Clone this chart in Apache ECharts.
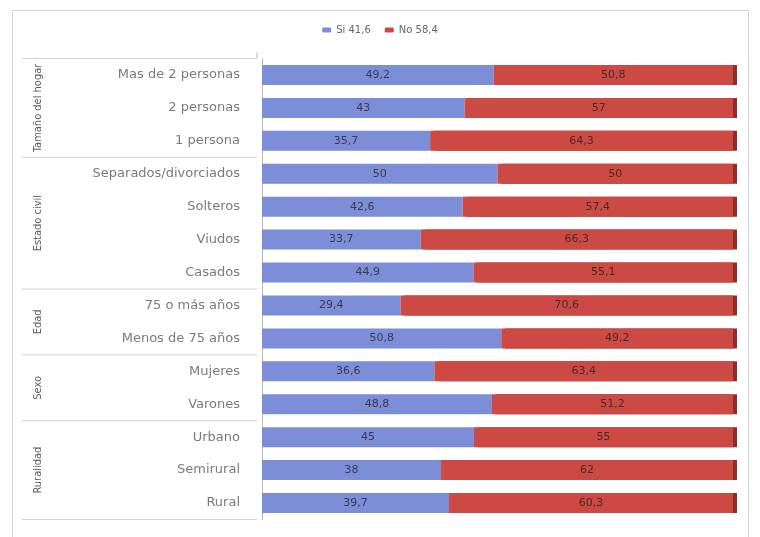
<!DOCTYPE html>
<html>
<head>
<meta charset="utf-8">
<script src="https://cdn.jsdelivr.net/npm/echarts@6/dist/echarts.min.js"></script>
<style>
html,body{margin:0;padding:0;background:#fff;}
#frame{position:absolute;left:12px;top:10px;width:737px;height:530px;border:1px solid #d4d4d4;box-sizing:border-box;}
#chart{position:absolute;left:0;top:0;width:760px;height:537px;}
</style>
</head>
<body>
<div id="frame"></div>
<div id="chart"></div>
<script>
const categories = ['Mas de 2 personas','2 personas','1 persona','Separados/divorciados','Solteros','Viudos','Casados','75 o más años','Menos de 75 años','Mujeres','Varones','Urbano','Semirural','Rural'];
const siValues = [49.2, 43, 35.7, 50, 42.6, 33.7, 44.9, 29.4, 50.8, 36.6, 48.8, 45, 38, 39.7];
const noValues = [50.8, 57, 64.3, 50, 57.4, 66.3, 55.1, 70.6, 49.2, 63.4, 51.2, 55, 62, 60.3];
const groupNames = ['Tamaño del hogar','Estado civil','Edad','Sexo','Ruralidad'];
const groupSizes = [3, 4, 2, 2, 3];
const legendNames = ['Si 41,6', 'No 58,4'];

const blue = '#7d8ed8';
const red = '#cc4a43';
const fmt = v => String(v.value).replace('.', ',');

const chart = echarts.init(document.getElementById('chart'), null, {renderer:'canvas'});
const option = {
  animation: false,
  backgroundColor: 'transparent',
  legend: {
    top: 20, left: 'center',
    itemWidth: 9, itemHeight: 5, itemGap: 14,
    textStyle: {fontFamily: 'DejaVu Sans', fontSize: 10, color: '#666'},
    data: legendNames
  },
  grid: {left: 262, right: 27, top: 58.5, bottom: 17.5},
  xAxis: {type: 'value', min: 0, max: 100, show: false},
  yAxis: {
    type: 'category', data: categories, inverse: true, offset: 5,
    axisLine: {show: true, lineStyle: {color: '#b8b8b8'}},
    axisTick: {show: false},
    axisLabel: {margin: 17, fontFamily: 'DejaVu Sans', fontSize: 13, color: '#7a7a7a'}
  },
  series: [
    {
      name: legendNames[0], type: 'bar', stack: 't', data: siValues, barWidth: 20,
      itemStyle: {color: blue},
      label: {show: true, position: 'inside', formatter: fmt, fontFamily: 'DejaVu Sans', fontSize: 11, color: '#3a3a50'}
    },
    {
      name: legendNames[1], type: 'bar', stack: 't', data: noValues, barWidth: 20,
      itemStyle: {color: red, shadowColor: '#8c2f2a', shadowBlur: 0, shadowOffsetX: 4, shadowOffsetY: 0},
      label: {show: true, position: 'inside', formatter: fmt, fontFamily: 'DejaVu Sans', fontSize: 11, color: '#4a2a2a'}
    }
  ]
};
chart.setOption(option);

// group separators and rotated group labels
const y0 = chart.convertToPixel({yAxisIndex: 0}, 0);
const y1 = chart.convertToPixel({yAxisIndex: 0}, 1);
const step = y1 - y0;
const axisX = 262 - 5;
const graphics = [];
let start = 0;
const bounds = [];
for (let g = 0; g < groupSizes.length; g++) {
  const top = chart.convertToPixel({yAxisIndex: 0}, start) - step / 2;
  const end = start + groupSizes[g] - 1;
  const bottom = chart.convertToPixel({yAxisIndex: 0}, end) + step / 2;
  bounds.push(top);
  if (g === groupSizes.length - 1) bounds.push(bottom);
  graphics.push({
    type: 'text', x: 38, y: (top + bottom) / 2, rotation: Math.PI / 2,
    style: {text: groupNames[g], font: '11px "Liberation Sans Narrow", "DejaVu Sans Condensed", sans-serif', fill: '#5c5c5c', textAlign: 'center', textVerticalAlign: 'middle'}
  });
  start = end + 1;
}
bounds.forEach(b => {
  graphics.push({type: 'line', shape: {x1: 22, y1: b, x2: axisX, y2: b}, style: {stroke: '#d2d2d2', lineWidth: 1}});
});
graphics.push({type: 'line', shape: {x1: axisX, y1: bounds[0] - 6, x2: axisX, y2: bounds[0]}, style: {stroke: '#b8b8b8', lineWidth: 1}});
chart.setOption({graphic: graphics});
</script>
</body>
</html>
